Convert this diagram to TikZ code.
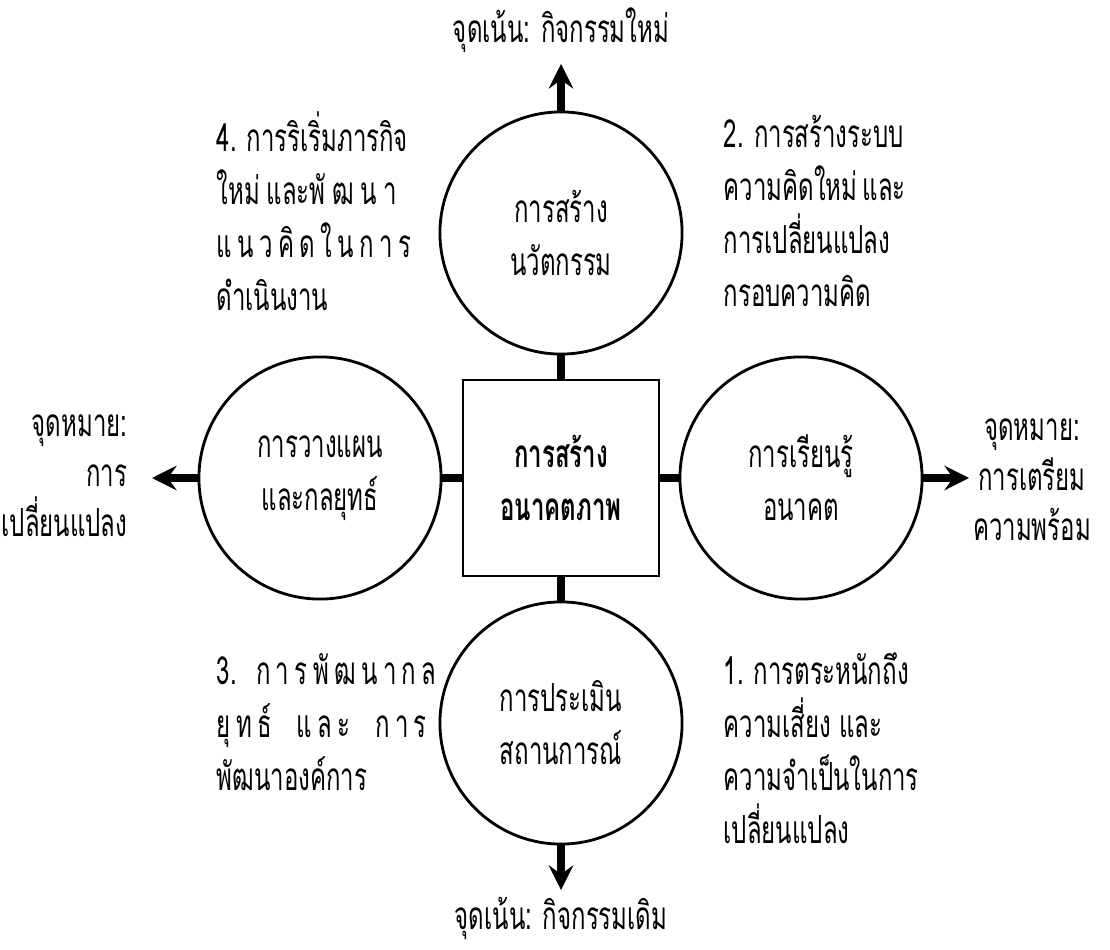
\documentclass[tikz,border=0pt]{standalone}
\usepackage{fontspec}
\newfontfamily\thaifont[Script=Thai,FakeStretch=0.62]{Loma}
\usetikzlibrary{arrows.meta}
\newlength{\notew}
\setlength{\notew}{1.8cm}
\newcommand{\spreadline}[1]{\makebox[\notew][s]{#1}}

\begin{document}
\begin{tikzpicture}[x=0.01cm, y=-0.01cm,
    >={Stealth[length=7pt,width=7pt,inset=2.5pt]},
    every node/.style={font=\thaifont\fontsize{11}{15.1}\selectfont},
    ring/.style={draw, circle, minimum size=2.42cm, inner sep=0pt,
                 line width=0.8pt, align=center},
    core/.style={draw, rectangle, minimum size=1.96cm, inner sep=0pt,
                 line width=0.6pt, align=center},
    stub/.style={line width=2.4pt},
    outarrow/.style={->, line width=2.4pt},
    notes/.style={align=left, inner sep=0pt, anchor=west},
    goal/.style={inner sep=0pt, font=\thaifont\fontsize{11}{14.2}\selectfont},
  ]
  \useasboundingbox (0,0) rectangle (1110,949);

  % centre box and the four circles
  \node[core] (core) at (561,478) {\textbf{การสร้าง}\\\textbf{อนาคตภาพ}};
  \node[ring] (innov) at (561,233) {การสร้าง\\นวัตกรรม};
  \node[ring] (assess) at (561,723) {การประเมิน\\สถานการณ์};
  \node[ring] (plan) at (320,478) {การวางแผน\\และกลยุทธ์};
  \node[ring] (learn) at (801,478) {การเรียนรู้\\อนาคต};

  % stubs
  \draw[stub] (innov) -- (core);
  \draw[stub] (assess) -- (core);
  \draw[stub] (plan) -- (core);
  \draw[stub] (learn) -- (core);

  % arrow ends
  \coordinate (tipN) at (561,64);
  \coordinate (tipS) at (561,890);
  \coordinate (tipW) at (152,478);
  \coordinate (tipE) at (969,478);
  \draw[outarrow] (innov.north) -- (tipN);
  \draw[outarrow] (assess.south) -- (tipS);
  \draw[outarrow] (plan.west) -- (tipW);
  \draw[outarrow] (learn.east) -- (tipE);

  % labels at the arrow ends
  \node[goal] (focusN) at (561,30) {จุดเน้น: กิจกรรมใหม่};
  \node[goal] (focusS) at (561,918) {จุดเน้น: กิจกรรมเดิม};
  \node[goal, align=right, anchor=east] (aimW) at (128,476) {จุดหมาย:\\การ\\เปลี่ยนแปลง};
  \node[goal, align=center] (aimE) at (1032,480) {จุดหมาย:\\การเตรียม\\ความพร้อม};

  % numbered notes
  \node[notes] (step4) at (216,211) {\spreadline{4. การริเริ่มภารกิจ}\\\spreadline{ใหม่ และพั ฒ น า}\\\spreadline{แ น ว คิ ด ใ น ก า ร}\\ดำเนินงาน};
  \node[notes] (step2) at (723,211) {\spreadline{2. การสร้างระบบ}\\\spreadline{ความคิดใหม่ และ}\\การเปลี่ยนแปลง\\กรอบความคิด};
  \node[notes] (step3) at (216,722) {\spreadline{3.\enspace ก า ร พั ฒ น า ก ล}\\\spreadline{ยุ ท ธ์ \enspace แ ล ะ \enspace ก า ร}\\พัฒนาองค์การ};
  \node[notes] (step1) at (723,748) {\spreadline{1. การตระหนักถึง}\\ความเสี่ยง และ\\ความจำเป็นในการ\\เปลี่ยนแปลง};
\end{tikzpicture}
\end{document}
